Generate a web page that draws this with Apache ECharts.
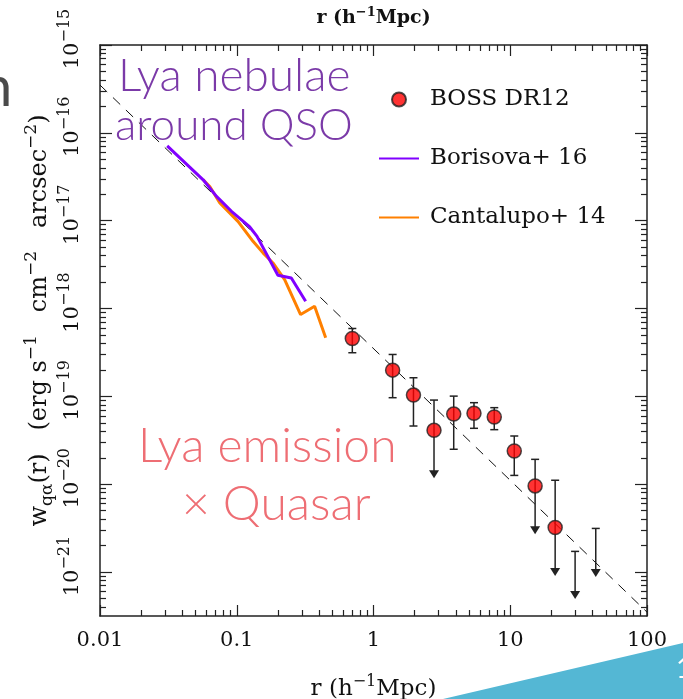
<!DOCTYPE html>
<html>
<head>
<meta charset="utf-8">
<script src="https://cdn.jsdelivr.net/npm/echarts@6/dist/echarts.min.js"></script>
<style>
  html, body { margin: 0; padding: 0; background: #ffffff; }
  #chart { width: 683px; height: 699px; }
</style>
</head>
<body>
<div id="chart"></div>
<script>
// Lyα–quasar cross-correlation, w(r) in erg s^-1 cm^-2 arcsec^-2, r in h^-1 Mpc

// BOSS DR12 measurements (marker, upper and lower end of the error bar)
const bossR  = [0.70, 1.38, 1.96, 2.77, 3.86, 5.43, 7.64, 10.7, 15.2, 21.3];
const bossW  = [4.56e-19, 1.99e-19, 1.035e-19, 4.11e-20, 6.29e-20, 6.41e-20, 5.82e-20, 2.39e-20, 9.57e-21, 3.22e-21];
const bossHi = [5.93e-19, 3.00e-19, 1.63e-19, 9.08e-20, 1.007e-19, 8.48e-20, 7.44e-20, 3.54e-20, 1.92e-20, 1.11e-20];
const bossLo = [3.14e-19, 9.66e-20, 4.60e-20, 1.17e-20, 2.50e-20, 4.33e-20, 4.18e-20, 1.26e-20, 2.70e-21, 9.0e-22];
// 1 = the lower end is an upper-limit arrow
const bossLowerLimit = [0, 0, 0, 1, 0, 0, 0, 0, 1, 1];

// bins with upper limits only
const limR  = [29.8, 42.2];
const limHi = [1.72e-21, 3.14e-21];
const limLo = [4.93e-22, 8.77e-22];

// Borisova+ 16 nebula profile
const borisovaR = [0.0310, 0.0568, 0.0711, 0.0915, 0.1245, 0.1407, 0.200, 0.2506, 0.319];
const borisovaW = [7.11e-17, 2.92e-17, 1.89e-17, 1.28e-17, 8.48e-18, 6.63e-18, 2.39e-18, 2.23e-18, 1.21e-18];

// Cantalupo+ 14 nebula profile
const cantalupoR = [0.0568, 0.0635, 0.0752, 0.102, 0.1315, 0.1556, 0.184, 0.224, 0.293, 0.371, 0.447];
const cantalupoW = [2.92e-17, 2.45e-17, 1.59e-17, 9.82e-18, 5.82e-18, 4.30e-18, 3.30e-18, 2.14e-18, 8.55e-19, 1.06e-18, 4.65e-19];

// power-law model, end points
const modelR = [0.01, 100];
const modelW = [3.5e-16, 3.5e-22];

// axis ticks
const xTickValues = [0.01, 0.1, 1, 10, 100];
const xTickLabels = ['0.01', '0.1', '1', '10', '100'];
const yTickValues = [1e-21, 1e-20, 1e-19, 1e-18, 1e-17, 1e-16, 1e-15];
const yTickExponents = ['−21', '−20', '−19', '−18', '−17', '−16', '−15'];
const xRange = [0.01, 100];
const yRange = [Math.pow(10, -21.5), 1e-15];

const lg = Math.log10;

function minorValues(lo, hi) {
  const out = [];
  for (let d = Math.floor(lg(lo)); d < Math.ceil(lg(hi)); d++) {
    for (let k = 2; k <= 9; k++) {
      const v = k * Math.pow(10, d);
      if (v > lo && v < hi) out.push(lg(v));
    }
  }
  return out;
}

const xMajor = xTickValues.map(lg);
const yMajor = yTickValues.map(lg);
const xMinor = minorValues(xRange[0], xRange[1]);
const yMinor = minorValues(yRange[0], yRange[1]);

function pairs(xs, ys) { return xs.map((x, i) => [lg(x), lg(ys[i])]); }

const errData = bossR.map((r, i) => [lg(r), lg(bossHi[i]), lg(bossLo[i]), bossLowerLimit[i]])
  .concat(limR.map((r, i) => [lg(r), lg(limHi[i]), lg(limLo[i]), 1]));

const serif = 'DejaVu Serif';
const axisColor = '#222';
const inkColor = '#111';

function nearestIndex(list, v) {
  let best = 0;
  list.forEach((t, i) => { if (Math.abs(t - v) < Math.abs(list[best] - v)) best = i; });
  return best;
}

const xMin = lg(xRange[0]), xMax = lg(xRange[1]);
const yMin = lg(yRange[0]), yMax = lg(yRange[1]);

function xAxisDef(position, major, withLabels, name) {
  return {
    type: 'value', position: position, min: xMin, max: xMax,
    splitLine: { show: false },
    axisLine: { show: major, onZero: false, lineStyle: { color: axisColor, width: 1.5 } },
    axisTick: { show: true, inside: true, length: major ? 11 : 6,
      customValues: major ? xMajor : xMinor, lineStyle: { color: axisColor, width: 1.2 } },
    axisLabel: withLabels ? {
      show: true, customValues: xMajor, margin: 14,
      fontFamily: serif, fontSize: 21, color: inkColor,
      formatter: v => xTickLabels[nearestIndex(xMajor, v)]
    } : { show: false },
    name: name ? name.text : '',
    nameLocation: 'middle',
    nameGap: name ? name.gap : 0,
    nameMoveOverlap: false,
    nameTextStyle: name ? name.style : {}
  };
}

function yAxisDef(position, major, withLabels, name) {
  return {
    type: 'value', position: position, min: yMin, max: yMax,
    splitLine: { show: false },
    axisLine: { show: major, onZero: false, lineStyle: { color: axisColor, width: 1.5 } },
    axisTick: { show: true, inside: true, length: major ? 12 : 6,
      customValues: major ? yMajor : yMinor, lineStyle: { color: axisColor, width: 1.2 } },
    axisLabel: withLabels ? {
      show: true, customValues: yMajor, margin: 11, rotate: 90,
      color: inkColor,
      formatter: v => '{b|10}{s|' + yTickExponents[nearestIndex(yMajor, v)] + '}',
      rich: {
        b: { fontFamily: serif, fontSize: 21, color: inkColor, padding: [0, 0, 0, 12] },
        s: { fontFamily: serif, fontSize: 16, color: inkColor, padding: [0, 0, 16, 0] }
      }
    } : { show: false },
    name: name ? name.text : '',
    nameLocation: 'middle',
    nameGap: name ? name.gap : 0,
    nameRotate: 90,
    nameMoveOverlap: false,
    nameTextStyle: name ? name.style : {}
  };
}

// rich styles for axis titles: plain text, superscript (raised) and subscript (lowered)
function titleRich(size, weight, supShift, subShift) {
  const small = Math.round(size * 0.7);
  return {
    t:   { fontFamily: serif, fontSize: size, fontWeight: weight, color: inkColor },
    sup: { fontFamily: serif, fontSize: small, fontWeight: weight, color: inkColor, padding: [0, 0, supShift, 0] },
    sub: { fontFamily: serif, fontSize: small, fontWeight: weight, color: inkColor, padding: [subShift, 0, 0, 0] }
  };
}

const chart = echarts.init(document.getElementById('chart'), null, { renderer: 'canvas' });

const option = {
  backgroundColor: '#ffffff',
  animation: false,
  grid: { left: 100, right: 36, top: 45, bottom: 83, containLabel: false, outerBoundsMode: 'none' },
  xAxis: [
    xAxisDef('bottom', true, true, {
      text: '{t|r (h}{sup|−1}{t|Mpc)}', gap: 58,
      style: { rich: titleRich(23, 'normal', 14, 14) }
    }),
    xAxisDef('bottom', false, false, null),
    xAxisDef('top', true, false, {
      text: '{t|r (h}{sup|−1}{t|Mpc)}', gap: 14,
      style: { rich: titleRich(19, 'bold', 12, 12) }
    }),
    xAxisDef('top', false, false, null)
  ],
  yAxis: [
    yAxisDef('left', true, true, {
      text: '{t|w}{sub|qα}{t|(r)   (erg s}{sup|−1}{t|   cm}{sup|−2}{t|   arcsec}{sup|−2}{t|)}', gap: 44,
      style: { padding: [0, 0, 0, 20], rich: titleRich(24, 'normal', 16, 16) }
    }),
    yAxisDef('left', false, false, null),
    yAxisDef('right', true, false, null),
    yAxisDef('right', false, false, null)
  ],
  legend: {
    orient: 'vertical',
    left: 373, top: 83,
    itemWidth: 40, itemHeight: 14, itemGap: 36,
    selectedMode: false,
    textStyle: { fontFamily: serif, fontSize: 23, color: inkColor, padding: [0, 0, 0, 6] },
    data: [
      { name: 'BOSS DR12' },
      { name: 'Borisova+ 16', itemStyle: { opacity: 0 } },
      { name: 'Cantalupo+ 14', itemStyle: { opacity: 0 } }
    ]
  },
  series: [
    {
      name: 'model', type: 'line', xAxisIndex: 0, yAxisIndex: 0,
      data: pairs(modelR, modelW), symbol: 'none', silent: true,
      lineStyle: { color: '#111', width: 1, type: [10, 8] }, z: 1
    },
    {
      name: 'Borisova+ 16', type: 'line', xAxisIndex: 0, yAxisIndex: 0,
      data: pairs(borisovaR, borisovaW), symbol: 'none',
      lineStyle: { color: '#8000FF', width: 3 }, itemStyle: { color: '#8000FF' }, z: 3
    },
    {
      name: 'Cantalupo+ 14', type: 'line', xAxisIndex: 0, yAxisIndex: 0,
      data: pairs(cantalupoR, cantalupoW), symbol: 'none',
      lineStyle: { color: '#FF8000', width: 3 }, itemStyle: { color: '#FF8000' }, z: 2
    },
    {
      name: 'errors', type: 'custom', xAxisIndex: 0, yAxisIndex: 0,
      data: errData, encode: { x: 0, y: [1, 2] }, silent: true, z: 4,
      renderItem: function (params, api) {
        const x = api.value(0);
        const top = api.coord([x, api.value(1)]);
        const bot = api.coord([x, api.value(2)]);
        const limit = api.value(3) === 1;
        const st = { stroke: '#222', lineWidth: 1.5 };
        const cap = 4;
        const kids = [
          { type: 'line', shape: { x1: top[0], y1: top[1], x2: bot[0], y2: limit ? bot[1] - 4 : bot[1] }, style: st },
          { type: 'line', shape: { x1: top[0] - cap, y1: top[1], x2: top[0] + cap, y2: top[1] }, style: st }
        ];
        if (limit) {
          kids.push({ type: 'polygon', shape: { points: [[bot[0] - 5, bot[1] - 8], [bot[0] + 5, bot[1] - 8], [bot[0], bot[1]]] },
            style: { fill: '#222' } });
        } else {
          kids.push({ type: 'line', shape: { x1: bot[0] - cap, y1: bot[1], x2: bot[0] + cap, y2: bot[1] }, style: st });
        }
        return { type: 'group', children: kids };
      }
    },
    {
      name: 'BOSS DR12', type: 'scatter', xAxisIndex: 0, yAxisIndex: 0,
      data: pairs(bossR, bossW), symbol: 'circle', symbolSize: 14,
      itemStyle: { color: '#FF0000', borderColor: '#222', borderWidth: 1.5 }, z: 5
    }
  ],
  graphic: [
    { type: 'text', x: 118, y: 76, z: 10,
      style: { text: 'Lya nebulae', font: '300 46px Lato', fill: '#7B3AA8', textVerticalAlign: 'middle' } },
    { type: 'text', x: 115, y: 126, z: 10,
      style: { text: 'around QSO', font: '300 44px Lato', fill: '#7B3AA8', textVerticalAlign: 'middle' } },
    { type: 'text', x: 138, y: 447, z: 10,
      style: { text: 'Lya emission', font: '300 48px Lato', fill: '#EE6E74', textVerticalAlign: 'middle' } },
    { type: 'text', x: 182, y: 505, z: 10,
      style: { text: '× Quasar', font: '300 48px Lato', fill: '#EE6E74', textVerticalAlign: 'middle' } },
    { type: 'text', x: -19, y: 88, z: 10,
      style: { text: 'n', font: '56px Lato', fill: '#4a4a4a', textVerticalAlign: 'middle' } },
    { type: 'polygon', z: 20,
      shape: { points: [[443, 699], [683, 643], [683, 699]] },
      style: { fill: '#54B7D4' } },
    { type: 'text', x: 676, y: 669, z: 21,
      style: { text: '1', font: '28px Lato', fill: '#ffffff', textVerticalAlign: 'middle' } }
  ]
};

chart.setOption(option);
</script>
</body>
</html>
